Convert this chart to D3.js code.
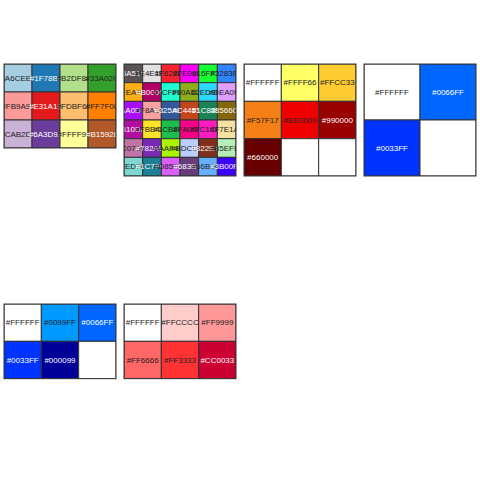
<!DOCTYPE html>
<html>
<head>
<meta charset="utf-8">
<script src="https://cdn.jsdelivr.net/npm/d3@7"></script>
<style>
html,body{margin:0;padding:0;background:#fff;}
svg{display:block;}
</style>
</head>
<body>
<svg id="chart" width="480" height="480"></svg>
<script>
// Palettes (hex codes shown in the cells)
const paired = ["#A6CEE3","#1F78B4","#B2DF8A","#33A02C","#FB9A99","#E31A1C","#FDBF6F","#FF7F00","#CAB2D6","#6A3D9A","#FFFF99","#B15928"];
const polychrome = ["#5A5156","#E4E1E3","#F6222E","#FE00FA","#16FF32","#3283FE",
  "#FEAF16","#B00068","#1CFFCE","#90AD1C","#2ED9FF","#DEA0FD",
  "#AA0DFE","#F8A19F","#325A9B","#C4451C","#1C8356","#85660D",
  "#B10DA1","#FBE426","#1CBE4F","#FA0087","#FC1CBF","#F7E1A0",
  "#C075A6","#782AB6","#AAF400","#BDCDFF","#822E1C","#B5EFB5",
  "#7ED7D1","#1C7F93","#D85FF7","#683B79","#66B0FF","#3B00FB"];
const fire = ["#FFFFFF","#FFFF66","#FFCC33","#F57F17","#EE0000","#990000","#660000"];
const blue3 = ["#FFFFFF","#0066FF","#0033FF"];
const blue5 = ["#FFFFFF","#0099FF","#0066FF","#0033FF","#000099"];
const red6 = ["#FFFFFF","#FFCCCC","#FF9999","#FF6666","#FF3333","#CC0033"];

const palettes = [paired, polychrome, fire, blue3, blue5, red6];
const panelCol = [0,1,2,3,0,1];
const panelRow = [0,0,0,0,1,1];

const svg = d3.select("#chart");
const panelX = d3.scaleBand().domain(d3.range(4)).range([0,480]);
const panelY = d3.scaleBand().domain(d3.range(2)).range([0,480]);
const inset = 4, topOff = 64, panelW = 112;

function lum(hex){
  const c = d3.rgb(hex);
  const f = v => { v/=255; return v<=0.03928 ? v/12.92 : Math.pow((v+0.055)/1.055,2.4); };
  return 0.2126*f(c.r)+0.7152*f(c.g)+0.0722*f(c.b);
}
function textColor(hex){
  const L = lum(hex);
  return (1.05/(L+0.05)) > ((L+0.05)/0.05) ? "#ffffff" : "#222222";
}

palettes.forEach((pal,i)=>{
  const n = pal.length;
  const ncol = Math.ceil(Math.sqrt(n));
  const nrow = Math.ceil(n/ncol);
  const x0 = panelX(panelCol[i]) + inset;
  const y0 = panelY(panelRow[i]) + topOff;
  const cell = panelW/ncol;
  const x = d3.scaleBand().domain(d3.range(ncol)).range([x0, x0+panelW]);
  const y = d3.scaleBand().domain(d3.range(nrow)).range([y0, y0+cell*nrow]);
  const clipId = "clip"+i;
  svg.append("clipPath").attr("id",clipId).append("rect")
    .attr("x",x0).attr("y",y0).attr("width",panelW).attr("height",cell*nrow);
  const g = svg.append("g").attr("clip-path",`url(#${clipId})`);
  const cells = d3.range(ncol*nrow).map(k=>({k, col:k%ncol, row:Math.floor(k/ncol), color: k<n ? pal[k] : null}));
  cells.forEach(d=>{
    g.append("rect")
      .attr("x",x(d.col)).attr("y",y(d.row))
      .attr("width",x.bandwidth()).attr("height",y.bandwidth())
      .attr("fill",d.color || "#ffffff")
      .attr("stroke","#333").attr("stroke-width",1);
    if(d.color){
      g.append("text")
        .attr("x",x(d.col)+x.bandwidth()/2)
        .attr("y",y(d.row)+y.bandwidth()/2)
        .attr("dy","0.35em")
        .attr("text-anchor","middle")
        .attr("font-family","'Liberation Sans', Arial, sans-serif")
        .attr("font-size",8)
        .attr("fill",textColor(d.color))
        .text(d.color);
    }
  });
  svg.append("rect").attr("x",x0).attr("y",y0).attr("width",panelW).attr("height",cell*nrow)
    .attr("fill","none").attr("stroke","#333").attr("stroke-width",1);
});
</script>
</body>
</html>
